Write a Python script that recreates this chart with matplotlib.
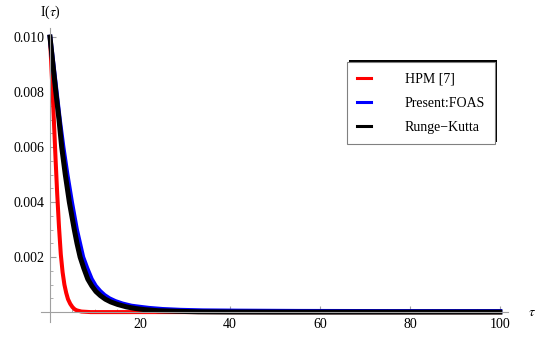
import numpy as np
import matplotlib.pyplot as plt
from matplotlib.patches import Rectangle

plt.rcParams['font.family'] = ['Liberation Serif', 'DejaVu Serif']
plt.rcParams['mathtext.fontset'] = 'stix'

# values
tau_hpm = [0, 0.4, 0.8, 1.2, 1.6, 2.0, 2.4, 2.8, 3.2, 3.6, 4.0, 4.5, 5.0, 5.5, 6.0, 7.0,
           8.0, 9.0, 100]
i_hpm = [0.0100, 0.0086, 0.0072, 0.0057, 0.0043, 0.0031, 0.0021, 0.00145, 0.0010, 0.0007,
         0.00047, 0.0003, 0.00018, 0.0001, 0.00006, 0.00002, 0.00001, 0.0, 0.0]

tau_foas = [0, 0.7, 1.4, 2.1, 2.9, 3.8, 4.8, 5.9, 6.6, 7.3, 8.2, 9.2, 10.1, 11.1, 12.1,
            13.2, 14.5, 16.1, 18.1, 20.0, 22.0, 25.0, 29.0, 34.0, 42.0, 55.0, 75.0, 100.0]
i_foas = [0.0100, 0.0090, 0.0080, 0.0070, 0.0060, 0.0050, 0.0040, 0.0030, 0.0025, 0.0020,
          0.0016, 0.0012, 0.00095, 0.00076, 0.00061, 0.00049, 0.00039, 0.0003, 0.00022,
          0.00018, 0.00014, 0.0001, 0.00007, 0.00005, 0.00004, 0.00003, 0.000025, 0.000025]

tau_rk = [0, 0.65, 1.3, 2.0, 2.6, 3.4, 4.3, 5.4, 6.0, 6.7, 7.5, 8.4, 9.3, 10.2, 11.2,
          12.3, 13.5, 15.0, 17.0, 19.0, 21.0, 24.0, 28.0, 33.0, 40.0, 50.0, 100.0]
i_rk = [0.0100, 0.0090, 0.0080, 0.0070, 0.0060, 0.0050, 0.0040, 0.0030, 0.0025, 0.0020,
        0.0016, 0.0012, 0.00095, 0.00075, 0.0006, 0.00047, 0.00037, 0.00028, 0.00019,
        0.00013, 0.00009, 0.00005, 0.00003, 0.00001, 0.000003, 0.0, 0.0]

labels = ["HPM [7]", "Present:FOAS", "Runge\u2212Kutta"]
colors = ["#ff0000", "#0000ff", "#000000"]

fig = plt.figure(figsize=(5.5, 3.46), dpi=100)
W, H = 550, 346
ax = fig.add_axes([41 / W, 1 - 322 / H, (508 - 41) / W, (322 - 28) / H])

ax.plot(tau_hpm, i_hpm, color=colors[0], lw=2.9, label=labels[0], solid_joinstyle="round")
ax.plot(tau_foas, i_foas, color=colors[1], lw=3.4, label=labels[1], solid_joinstyle="round")
ax.plot(tau_rk, i_rk, color=colors[2], lw=3.6, label=labels[2], solid_joinstyle="round")

ax.set_xlim(-2, 101.8)
ax.set_ylim(-0.00036, 0.01033)

for s in ["top", "right"]:
    ax.spines[s].set_visible(False)
ax.spines["left"].set_position(("data", 0))
ax.spines["bottom"].set_position(("data", 0))
for s in ["left", "bottom"]:
    ax.spines[s].set_color("#a0a0a0")
    ax.spines[s].set_linewidth(0.8)

ax.set_xticks([20, 40, 60, 80, 100])
ax.set_xticks(np.arange(5, 100, 5), minor=True)
ax.set_yticks([0.002, 0.004, 0.006, 0.008, 0.010])
ax.set_yticklabels(["0.002", "0.004", "0.006", "0.008", "0.010"])
ax.set_yticks(np.arange(0.0005, 0.0101, 0.0005), minor=True)
ax.tick_params(which="both", direction="in", color="#a0a0a0", labelsize=10, pad=4)
ax.tick_params(which="major", length=4, width=0.8)
ax.tick_params(which="minor", length=2.2, width=0.6)

fig.text(50 / W, 1 - 12 / H, r"I($\tau$)", ha="center", va="center", fontsize=10)
fig.text(532 / W, 1 - 313 / H, r"$\tau$", ha="center", va="center", fontsize=10)

leg = ax.legend(loc="upper left", bbox_to_anchor=(347 / W, 1 - 62 / H),
                bbox_transform=fig.transFigure, fontsize=10, handlelength=1.0,
                handletextpad=2.4, borderpad=0.75, labelspacing=0.8,
                fancybox=False, framealpha=1, edgecolor="#808080", borderaxespad=0)
leg.get_frame().set_linewidth(0.8)
for line in leg.get_lines():
    line.set_linewidth(2.2)
leg.set_zorder(5)

# drop shadow of the legend box, offset up and to the right
fig.canvas.draw()
bb = leg.get_window_extent()
shadow = Rectangle((bb.x0 + 2, bb.y0 + 2), bb.width, bb.height, transform=None,
                   facecolor="black", edgecolor="none", zorder=4, clip_on=False)
ax.add_artist(shadow)

fig.savefig("out.png", dpi=100)
